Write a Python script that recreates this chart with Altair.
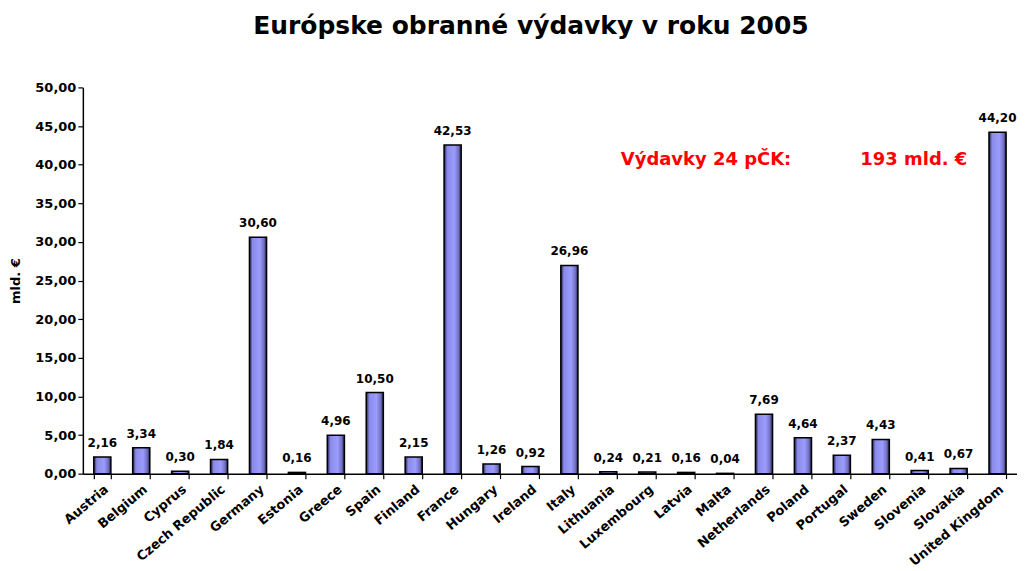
import altair as alt
import pandas as pd

countries = ["Austria", "Belgium", "Cyprus", "Czech Republic", "Germany", "Estonia", "Greece",
             "Spain", "Finland", "France", "Hungary", "Ireland", "Italy", "Lithuania",
             "Luxembourg", "Latvia", "Malta", "Netherlands", "Poland", "Portugal", "Sweden",
             "Slovenia", "Slovakia", "United Kingdom"]
values = [2.16, 3.34, 0.30, 1.84, 30.60, 0.16, 4.96, 10.50, 2.15, 42.53, 1.26, 0.92, 26.96,
          0.24, 0.21, 0.16, 0.04, 7.69, 4.64, 2.37, 4.43, 0.41, 0.67, 44.20]
y_ticks = [0, 5, 10, 15, 20, 25, 30, 35, 40, 45, 50]

df = pd.DataFrame({"country": countries, "value": values})
df["label"] = df["value"].map(lambda v: f"{v:.2f}".replace(".", ","))

FONT = "DejaVu Sans"

x_enc = alt.X("country:N", sort=countries, title=None,
              scale=alt.Scale(paddingInner=0.56, paddingOuter=0.28),
              axis=alt.Axis(labelAngle=-40, tickBand="extent", labelPadding=4))
y_enc = alt.Y("value:Q", title="mld. €",
              scale=alt.Scale(domain=[0, 50], nice=False),
              axis=alt.Axis(values=y_ticks, labelExpr="replace(format(datum.value, '.2f'), '.', ',')",
                            titlePadding=12, grid=False, labelPadding=2, labelOverlap=False))

grad = alt.Gradient(gradient="linear", x1=0, y1=0, x2=1, y2=0,
                    stops=[alt.GradientStop(color="#1c1c50", offset=0),
                           alt.GradientStop(color="#8a8ae8", offset=0.18),
                           alt.GradientStop(color="#9c9cff", offset=0.6),
                           alt.GradientStop(color="#7070c0", offset=0.85),
                           alt.GradientStop(color="#23234f", offset=1)])

base = alt.Chart(df).encode(x=x_enc, y=y_enc)
bars = base.mark_bar(color=grad, stroke="black", strokeWidth=1.5)
labels = base.mark_text(dy=-10, baseline="alphabetic", font=FONT, fontSize=12, fontWeight="bold",
                        color="black").encode(text="label:N")

ann_df = pd.DataFrame({"t": ["Výdavky 24 pČK:", "193 mld. €"], "px": [539, 779]})
ann = alt.Chart(ann_df).mark_text(align="left", baseline="alphabetic", font=FONT, fontSize=18,
                                  fontWeight="bold", color="#ff0000").encode(
    x=alt.X("px:Q", scale=None), y=alt.value(78), text="t:N")

chart = alt.layer(bars, labels, ann).properties(
    width=936, height=387,
    title=alt.TitleParams("Európske obranné výdavky v roku 2005", font=FONT, fontSize=25,
                          fontWeight="bold", color="black", anchor="middle", dx=-19, offset=43),
    autosize=alt.AutoSizeParams(type="none"),
    padding={"left": 75, "top": 79, "right": 0, "bottom": 110},
).configure_view(stroke=None).configure_axis(
    labelFont=FONT, labelFontSize=13, labelFontWeight="bold", labelColor="black",
    titleFont=FONT, titleFontSize=13, titleFontWeight="bold", titleColor="black",
    tickColor="black", tickSize=5, tickWidth=1.2, domainColor="black", domainWidth=1.5,
).configure_axisX(labelFontSize=13)

chart.save("out.html", embed_options={"renderer": "svg", "actions": False})
